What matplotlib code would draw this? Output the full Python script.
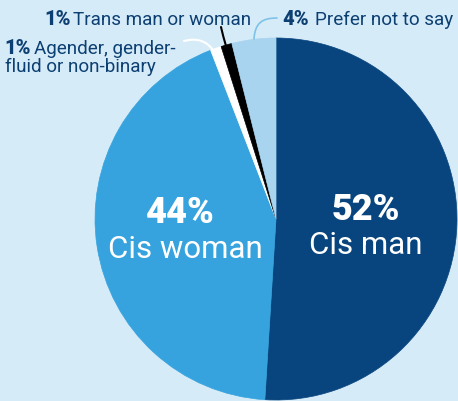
import matplotlib.pyplot as plt
from matplotlib.path import Path
import matplotlib.patches as mpatches

# survey shares (labels add to 102 because of rounding)
groups = ["Cis man", "Cis woman", "Agender, gender-\nfluid or non-binary",
          "Trans man or woman", "Prefer not to say"]
shares = [52, 44, 1, 1, 4]
colours = ["#08457e", "#36a3de", "#ffffff", "#000000", "#a8d4ef"]

bg = "#d6ebf8"
navy = "#0c3f72"
H = 402  # figure height in px, texts below are placed in pixel units from top

plt.rcParams['font.family'] = ['Roboto', 'DejaVu Sans']

fig = plt.figure(figsize=(4.58, 4.02), dpi=100)
fig.patch.set_facecolor(bg)
ax = fig.add_axes([0, 0, 1, 1])
ax.set_facecolor(bg)

wedges, _ = ax.pie(shares, colors=colours, startangle=90, counterclock=False,
                   center=(276, H - 220), radius=181, frame=False)
for w in wedges:
    w.set_edgecolor(w.get_facecolor())
    w.set_linewidth(0.5)

ax.set_xlim(0, 458)
ax.set_ylim(0, H)
ax.set_aspect('equal')
ax.axis('off')

# big labels inside
ax.text(180, H - 223, "%d%%" % shares[1], ha='center', va='baseline',
        fontsize=26, fontweight='black', color='white')
ax.text(185, H - 258, groups[1], ha='center', va='baseline',
        fontsize=22.5, color='white')
ax.text(366, H - 220, "%d%%" % shares[0], ha='center', va='baseline',
        fontsize=26, fontweight='black', color='white')
ax.text(366, H - 254, groups[0], ha='center', va='baseline',
        fontsize=22.5, color='white')

# small outer labels
fs = 13.6
fsb = 14.5
ax.text(44, H - 25, "%d%%" % shares[3], fontsize=fsb, fontweight='black',
        color=navy, va='baseline')
ax.text(73, H - 25, groups[3], fontsize=fs, color=navy, va='baseline')
ax.text(282, H - 25, "%d%%" % shares[4], fontsize=fsb, fontweight='black',
        color=navy, va='baseline')
ax.text(315, H - 25, groups[4], fontsize=fs, color=navy, va='baseline')
ax.text(4, H - 54, "%d%%" % shares[2], fontsize=fsb, fontweight='black',
        color=navy, va='baseline')
line1, line2 = groups[2].split("\n")
ax.text(34, H - 54, line1, fontsize=fs, color=navy, va='baseline')
ax.text(5, H - 72, line2, fontsize=fs, color=navy, va='baseline')

# leader lines
def leader(pts, codes, col, lw):
    p = Path([(x, H - y) for x, y in pts], codes)
    ax.add_patch(mpatches.PathPatch(p, fill=False, edgecolor=col, lw=lw,
                                    capstyle='round'))

C4 = Path.CURVE4
C3 = Path.CURVE3
leader([(254, 40), (255, 24), (262, 19), (277, 19)],
       [Path.MOVETO, C4, C4, C4], "#7fc2e8", 1.2)
leader([(226, 47), (223, 37), (221, 28)],
       [Path.MOVETO, C3, C3], "#000000", 1.5)
leader([(213, 51), (203, 37), (184, 42)],
       [Path.MOVETO, C3, C3], "#ffffff", 1.5)

fig.savefig("out.png", dpi=100, facecolor=bg)
